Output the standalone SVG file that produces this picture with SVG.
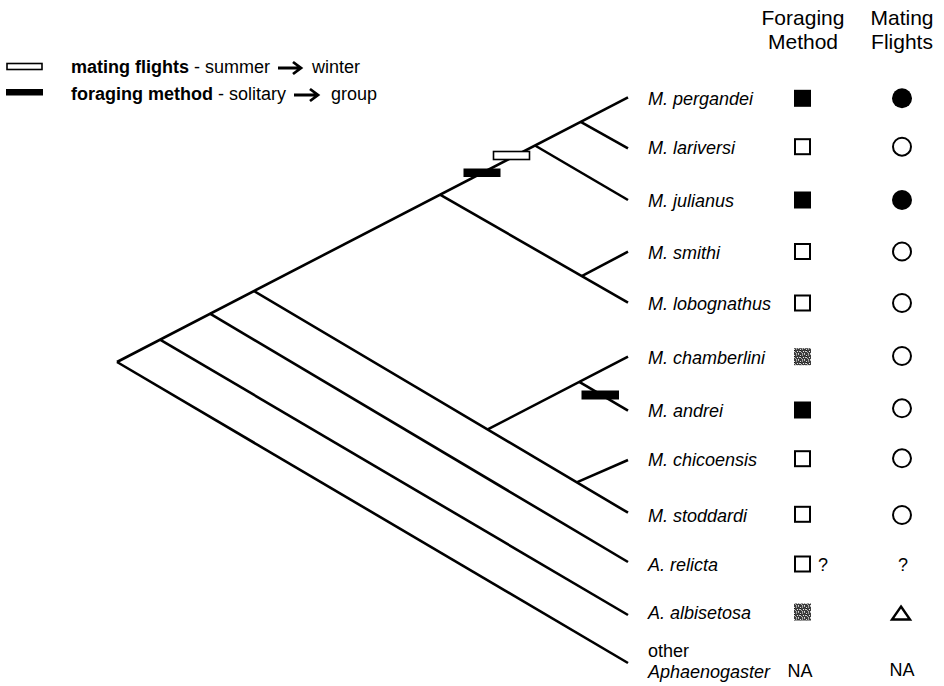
<svg xmlns="http://www.w3.org/2000/svg" width="944" height="686" viewBox="0 0 944 686">
<style>
text{font-family:"Liberation Sans",Arial,Helvetica,sans-serif;fill:#000}
.sp{font-size:18px;font-style:italic}
.hd{font-size:21px;text-anchor:middle}
.lg{font-size:18px}
.b{font-weight:bold}
.na{font-size:18px;text-anchor:middle}
.br{stroke:#000;stroke-width:2.6;fill:none}
.sqo{fill:#fff;stroke:#000;stroke-width:2}
.sqf{fill:#000}
.sqg{fill:url(#noise)}
.co{fill:#fff;stroke:#000;stroke-width:2}
.cf{fill:#000}
</style>
<defs>
<pattern id="noise" width="6" height="6" patternUnits="userSpaceOnUse">
<rect width="6" height="6" fill="#3c3c3c"/>
<rect x="0" y="0" width="1" height="1" fill="#bbb"/>
<rect x="2" y="1" width="1" height="1" fill="#ddd"/>
<rect x="4" y="0" width="1" height="2" fill="#999"/>
<rect x="1" y="3" width="2" height="1" fill="#ccc"/>
<rect x="5" y="3" width="1" height="1" fill="#eee"/>
<rect x="3" y="4" width="1" height="1" fill="#aaa"/>
<rect x="0" y="5" width="1" height="1" fill="#ddd"/>
<rect x="4" y="5" width="1" height="1" fill="#bbb"/>
<rect x="2" y="2" width="1" height="1" fill="#111"/>
</pattern>
</defs>
<rect width="944" height="686" fill="#fff"/>

<g id="legend">
<rect x="7" y="63.5" width="35" height="6" fill="#fff" stroke="#000" stroke-width="1.6"/>
<text class="lg" x="71" y="73"><tspan class="b">mating flights</tspan> - summer</text>
<path d="M278,68 H300 M293,62 L301,68 L293,74" stroke="#000" stroke-width="2.8" fill="none"/>
<text class="lg" x="312" y="73">winter</text>
<rect x="6" y="89" width="37" height="6.5" fill="#000"/>
<text class="lg" x="71" y="100"><tspan class="b">foraging method</tspan> - solitary</text>
<path d="M294,95 H317 M310,89 L318,95 L310,101" stroke="#000" stroke-width="2.8" fill="none"/>
<text class="lg" x="331" y="100">group</text>
</g>

<g id="headers">
<text class="hd" x="803" y="25">Foraging</text>
<text class="hd" x="803" y="49">Method</text>
<text class="hd" x="902" y="25">Mating</text>
<text class="hd" x="902" y="49">Flights</text>
</g>

<g id="connectors">
<line class="br" x1="117" y1="362" x2="628" y2="97.3"/>
<line class="br" x1="117" y1="362" x2="628" y2="663"/>
<line class="br" x1="160" y1="339.6" x2="628" y2="615"/>
<line class="br" x1="210" y1="313.6" x2="628" y2="562"/>
<line class="br" x1="254" y1="291" x2="628" y2="512.7"/>
<line class="br" x1="487.7" y1="429.4" x2="628" y2="356.7"/>
<line class="br" x1="579.3" y1="381.9" x2="628" y2="410.7"/>
<line class="br" x1="576.7" y1="482.4" x2="628" y2="460"/>
<line class="br" x1="440" y1="194.6" x2="628" y2="302.7"/>
<line class="br" x1="581.7" y1="276.1" x2="628" y2="251.7"/>
<line class="br" x1="535" y1="145.5" x2="628" y2="200"/>
<line class="br" x1="580.7" y1="121.8" x2="628" y2="148.3"/>
</g>

<g id="changes">
<rect x="493.5" y="151.5" width="36" height="8" fill="#fff" stroke="#000" stroke-width="1.6"/>
<rect x="463.5" y="168.5" width="37" height="8.5" fill="#000"/>
<rect x="581.5" y="390.5" width="37.5" height="9" fill="#000"/>
</g>

<g id="n-pergandei"><text class="sp" x="648" y="105">M. pergandei</text><rect class="sqf" x="794" y="89.8" width="17" height="17"/><circle class="cf" cx="902" cy="98.3" r="10"/></g>
<g id="n-lariversi"><text class="sp" x="648" y="154">M. lariversi</text><rect class="sqo" x="795" y="139.2" width="15" height="15"/><circle class="co" cx="902" cy="146.7" r="9"/></g>
<g id="n-julianus"><text class="sp" x="648" y="207">M. julianus</text><rect class="sqf" x="794" y="191.5" width="17" height="17"/><circle class="cf" cx="902" cy="200" r="10"/></g>
<g id="n-smithi"><text class="sp" x="648" y="258.5">M. smithi</text><rect class="sqo" x="795" y="244" width="15" height="15"/><circle class="co" cx="902" cy="251.5" r="9"/></g>
<g id="n-lobognathus"><text class="sp" x="648" y="310">M. lobognathus</text><rect class="sqo" x="795" y="295.5" width="15" height="15"/><circle class="co" cx="902" cy="303" r="9"/></g>
<g id="n-chamberlini"><text class="sp" x="648" y="364">M. chamberlini</text><rect class="sqg" x="794" y="348.2" width="17" height="17"/><circle class="co" cx="902" cy="356" r="9"/></g>
<g id="n-andrei"><text class="sp" x="648" y="417">M. andrei</text><rect class="sqf" x="794" y="401.5" width="17" height="17"/><circle class="co" cx="902" cy="408.3" r="9"/></g>
<g id="n-chicoensis"><text class="sp" x="648" y="466">M. chicoensis</text><rect class="sqo" x="795" y="451.2" width="15" height="15"/><circle class="co" cx="902" cy="458.3" r="9"/></g>
<g id="n-stoddardi"><text class="sp" x="648" y="521.5">M. stoddardi</text><rect class="sqo" x="795" y="506.8" width="15" height="15"/><circle class="co" cx="902" cy="515" r="9"/></g>
<g id="n-relicta"><text class="sp" x="648" y="571">A. relicta</text><rect class="sqo" x="795" y="556.5" width="15" height="15"/><text class="lg" x="818" y="571">?</text><text class="na" x="903" y="571">?</text></g>
<g id="n-albisetosa"><text class="sp" x="648" y="619">A. albisetosa</text><rect class="sqg" x="794" y="603.5" width="17" height="17"/><path d="M901,606.5 L910,619.5 L892,619.5 Z" fill="none" stroke="#000" stroke-width="2.4" stroke-linejoin="miter"/></g>
<g id="n-other"><text class="lg" x="648" y="657">other</text><text class="sp" x="648" y="678">Aphaenogaster</text><text class="na" x="800" y="677">NA</text><text class="na" x="902" y="676">NA</text></g>
</svg>
